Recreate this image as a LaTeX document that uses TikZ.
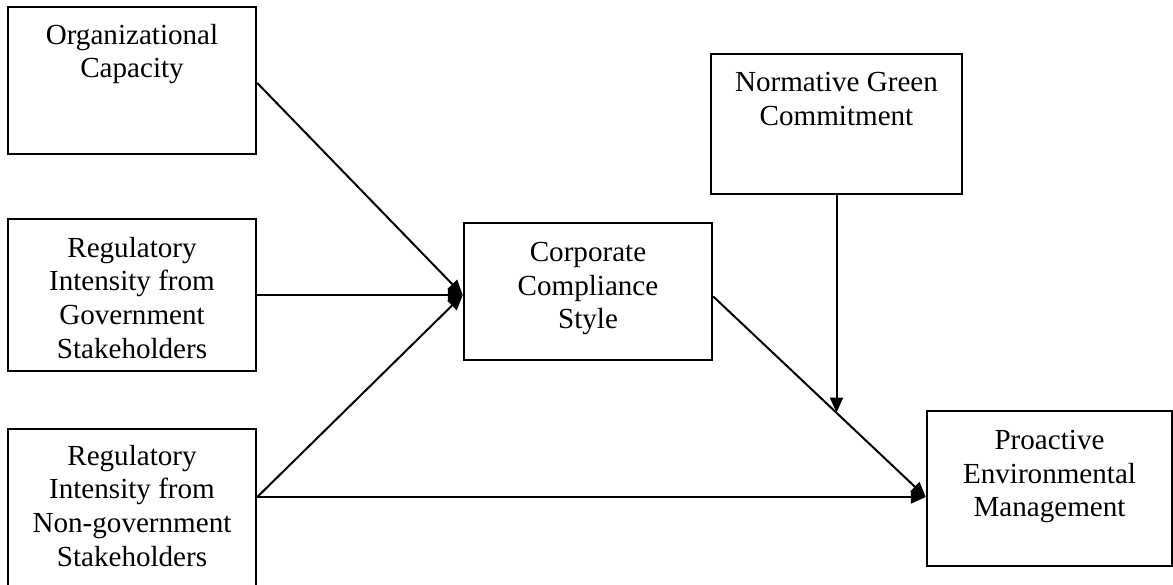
\documentclass[tikz,border=0pt]{standalone}
\usepackage{fontspec}
\setmainfont{Liberation Serif}
\usetikzlibrary{arrows.meta,calc}
\begin{document}
\begin{tikzpicture}[x=1pt,y=-1pt,
  box/.style={draw=black,line width=2.5pt,rectangle,inner sep=0pt},
  txt/.style={align=center,inner sep=0pt,anchor=north,font=\fontsize{29.1}{33.6}\selectfont},
  conn/.style={line width=2pt,-{Triangle[length=15pt,width=13pt]}}]
\useasboundingbox (0,0) rectangle (1173,585);
% boxes
\node[box,minimum width=248pt,minimum height=147pt] (org) at (132,80.5) {};
\node[box,minimum width=248pt,minimum height=152pt] (gov) at (132,295) {};
\node[box,minimum width=248pt,minimum height=158pt] (ngov) at (132,508) {};
\node[box,minimum width=248pt,minimum height=137pt] (ccs) at (588,291.5) {};
\node[box,minimum width=251pt,minimum height=140pt] (norm) at (836.5,124) {};
\node[box,minimum width=245pt,minimum height=155pt] (pem) at (1049.5,488.5) {};
% texts
\node[txt] (orgt) at (132,24) {Organizational\\Capacity};
\node[txt] (govt) at (132,237) {Regulatory\\Intensity from\\Government\\Stakeholders};
\node[txt] (ngovt) at (132,445) {Regulatory\\Intensity from\\Non-government\\Stakeholders};
\node[txt] (ccst) at (588,242) {Corporate\\Compliance\\Style};
\node[txt] (normt) at (836.5,72) {Normative Green\\Commitment};
\node[txt] (pemt) at (1049.5,430) {Proactive\\Environmental\\Management};
% helper coordinates
\coordinate (ccsin) at (gov.east -| ccs.west);
\coordinate (ngovout) at ($(ngov.east)+(0,-11)$);
\coordinate (pemin) at (ngovout -| pem.west);
\coordinate (ccsout) at ($(ccs.east)+(0,5)$);
\coordinate (meet) at ($(ccsout)!0.579!(pemin)$);
% connectors
\draw[conn] ($(org.east)+(0,2.5)$) -- (ccsin);
\draw[conn] (gov.east) -- (ccsin);
\draw[conn] (ngovout) -- (ccsin);
\draw[conn] (ngovout) -- (pemin);
\draw[conn] (ccsout) -- (pemin);
\draw[conn] (norm.south) -- (norm.south |- meet);
\end{tikzpicture}
\end{document}
